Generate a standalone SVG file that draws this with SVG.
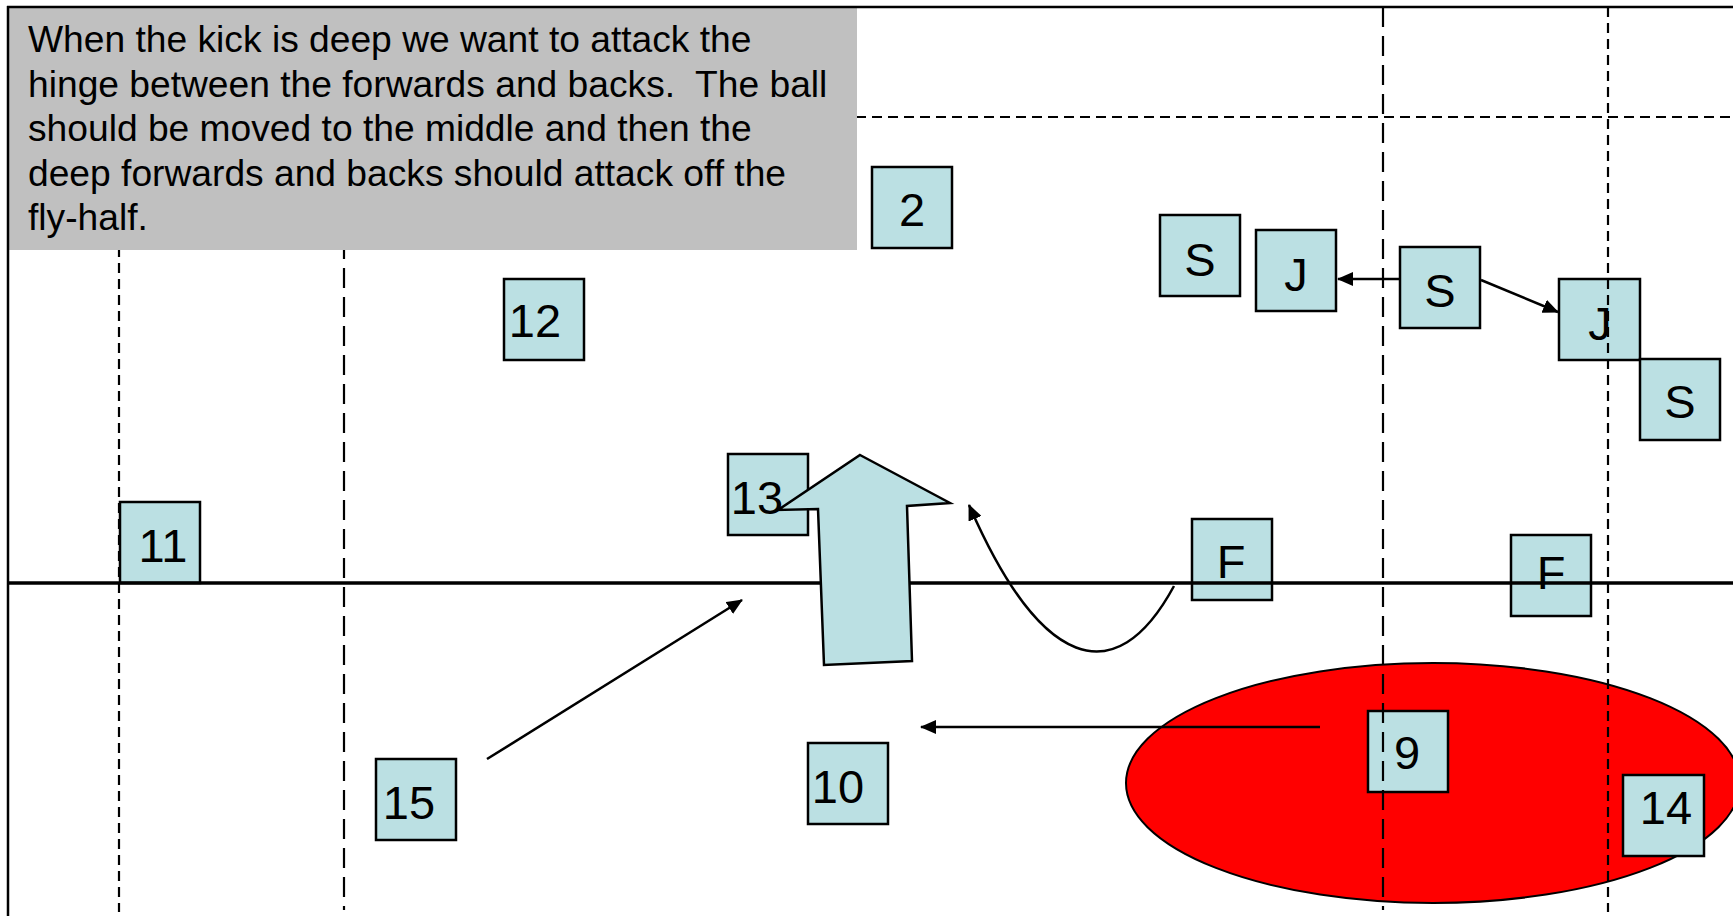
<svg xmlns="http://www.w3.org/2000/svg" width="1733" height="916" viewBox="0 0 1733 916">
<style>
.box{fill:#bbe0e3;stroke:#000;stroke-width:2.5}
.lbl{font-family:"Liberation Sans",Arial,sans-serif;font-size:47px;fill:#000;text-anchor:middle}
.note{font-family:"Liberation Sans",Arial,sans-serif;font-size:37.2px;fill:#000}
.dl{stroke:#000;stroke-width:2.2;fill:none;stroke-dasharray:20 9}
.ds{stroke:#000;stroke-width:2.2;fill:none;stroke-dasharray:10 6}
.conn{stroke:#000;stroke-width:2.5;fill:none}
</style>
<defs>
<marker id="ah" markerWidth="16" markerHeight="14" refX="15" refY="7" orient="auto" markerUnits="userSpaceOnUse">
<path d="M0,0 L16,7 L0,14 z" fill="#000"/>
</marker>
</defs>
<rect x="0" y="0" width="1733" height="916" fill="#fff"/>
<ellipse id="zone" cx="1433" cy="783" rx="307" ry="120" fill="#ff0000" stroke="#000" stroke-width="2"/>
<g id="n2"><rect class="box" x="872" y="167" width="80" height="81"/><text class="lbl" x="912" y="226">2</text></g>
<g id="n12"><rect class="box" x="504" y="279" width="80" height="81"/><text class="lbl" x="535" y="337">12</text></g>
<g id="nS1"><rect class="box" x="1160" y="215" width="80" height="81"/><text class="lbl" x="1200" y="276">S</text></g>
<g id="nJ1"><rect class="box" x="1256" y="230" width="80" height="81"/><text class="lbl" x="1296" y="291">J</text></g>
<g id="nS2"><rect class="box" x="1400" y="247" width="80" height="81"/><text class="lbl" x="1440" y="307">S</text></g>
<g id="nJ2"><rect class="box" x="1559" y="279" width="81" height="81"/><text class="lbl" x="1600" y="340">J</text></g>
<g id="nS3"><rect class="box" x="1640" y="359" width="80" height="81"/><text class="lbl" x="1680" y="418">S</text></g>
<g id="n13"><rect class="box" x="728" y="454" width="80" height="81"/><text class="lbl" x="757" y="514">13</text></g>
<g id="n11"><rect class="box" x="120" y="502" width="80" height="81"/><text class="lbl" x="163" y="562">11</text></g>
<g id="nF1"><rect class="box" x="1192" y="519" width="80" height="81"/><text class="lbl" x="1231" y="578">F</text></g>
<g id="nF2"><rect class="box" x="1511" y="535" width="80" height="81"/><text class="lbl" x="1551" y="589">F</text></g>
<g id="n15"><rect class="box" x="376" y="759" width="80" height="81"/><text class="lbl" x="409" y="819">15</text></g>
<g id="n10"><rect class="box" x="808" y="743" width="80" height="81"/><text class="lbl" x="838" y="803">10</text></g>
<g id="n9"><rect class="box" x="1368" y="711" width="80" height="81"/><text class="lbl" x="1407" y="769">9</text></g>
<g id="n14"><rect class="box" x="1623" y="775" width="81" height="81"/><text class="lbl" x="1666" y="824">14</text></g>
<g id="field">
<line class="ds" x1="119" y1="7" x2="119" y2="912"/>
<line class="dl" x1="344" y1="7" x2="344" y2="910"/>
<line class="dl" x1="1383" y1="7" x2="1383" y2="910"/>
<line class="ds" x1="1608" y1="7" x2="1608" y2="912"/>
<line class="ds" x1="8" y1="117" x2="1733" y2="117"/>
<line x1="8" y1="583" x2="1733" y2="583" stroke="#000" stroke-width="3.5"/>
</g>
<g id="note">
<rect x="8" y="7" width="849" height="243" fill="#c0c0c0"/>
<text class="note" x="28" y="52">When the kick is deep we want to attack the</text>
<text class="note" x="28" y="96.5">hinge between the forwards and backs.&#160; The ball</text>
<text class="note" x="28" y="141">should be moved to the middle and then the</text>
<text class="note" x="28" y="185.5">deep forwards and backs should attack off the</text>
<text class="note" x="28" y="230">fly-half.</text>
</g>
<g id="frame">
<line x1="7" y1="7" x2="1733" y2="7" stroke="#000" stroke-width="2.5"/>
<line x1="8" y1="6" x2="8" y2="916" stroke="#000" stroke-width="2.5"/>
</g>
<g id="connectors">
<line class="conn" x1="1400" y1="279" x2="1338" y2="279" marker-end="url(#ah)"/>
<line class="conn" x1="1481" y1="280" x2="1558" y2="312" marker-end="url(#ah)"/>
<line class="conn" x1="487" y1="759" x2="742" y2="600" marker-end="url(#ah)"/>
<line class="conn" x1="1320" y1="727" x2="921" y2="727" marker-end="url(#ah)"/>
<path class="conn" d="M1174,586 C1115,695 1040,668 969,505" marker-end="url(#ah)"/>
</g>
<g id="bigArrow">
<polygon points="860,455 950,503 907,506 912,661 824,665 818,509 778,510" fill="#bbe0e3" stroke="#000" stroke-width="2.5" stroke-linejoin="miter"/>
</g>
</svg>
